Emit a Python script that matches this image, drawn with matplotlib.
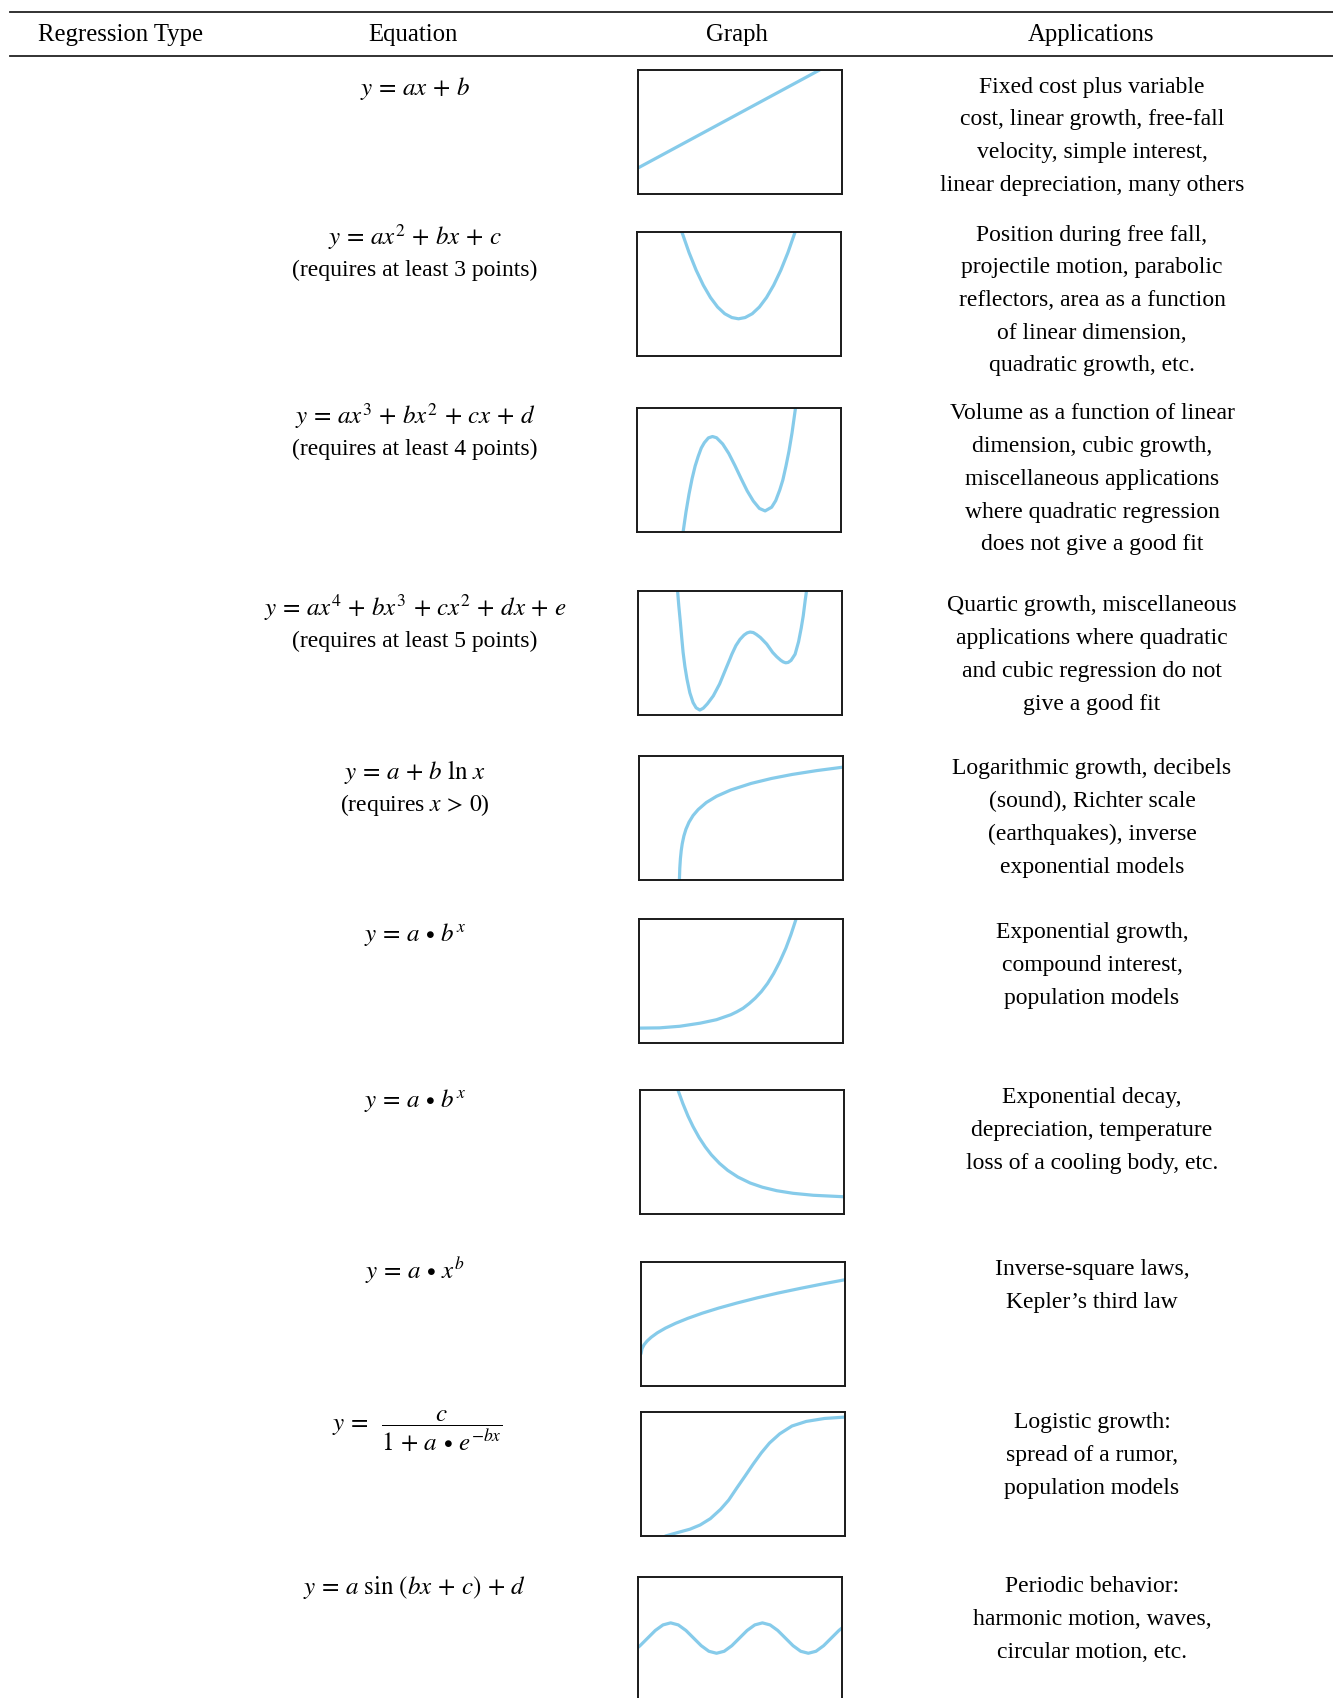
import matplotlib
matplotlib.use("Agg")
import matplotlib.pyplot as plt

plt.rcParams['font.family'] = ['Liberation Serif', 'DejaVu Serif']
plt.rcParams['mathtext.fontset'] = 'stix'

W, H = 1333, 1699
CURVE = '#86cbea'

headers = ["Regression Type", "Equation", "Graph", "Applications"]
header_x = [121, 413, 737, 1091]

equations = [
    r'$y\,=\,ax\,+\,b$',
    r'$y\,=\,ax^2\,+\,bx\,+\,c$',
    r'$y\,=\,ax^3\,+\,bx^2\,+\,cx\,+\,d$',
    r'$y\,=\,ax^4\,+\,bx^3\,+\,cx^2\,+\,dx\,+\,e$',
    r'$y\,=\,a\,+\,b\ \mathrm{ln}\ x$',
    r'$y\,=\,a\,\bullet\,b^x$',
    r'$y\,=\,a\,\bullet\,b^x$',
    r'$y\,=\,a\,\bullet\,x^b$',
    r'$y\,=\;\;\dfrac{c}{1\,+\,a\,\bullet\,e^{-bx}}$',
    r'$y\,=\,a\ \mathrm{sin}\ (bx\,+\,c)\,+\,d$',
]
notes = ["", "(requires at least 3 points)", "(requires at least 4 points)",
         "(requires at least 5 points)", r"(requires $x\,>\,0$)", "", "", "", "", ""]

applications = [
    ["Fixed cost plus variable", "cost, linear growth, free-fall",
     "velocity, simple interest,", "linear depreciation, many others"],
    ["Position during free fall,", "projectile motion, parabolic",
     "reflectors, area as a function", "of linear dimension,", "quadratic growth, etc."],
    ["Volume as a function of linear", "dimension, cubic growth,",
     "miscellaneous applications", "where quadratic regression", "does not give a good fit"],
    ["Quartic growth, miscellaneous", "applications where quadratic",
     "and cubic regression do not", "give a good fit"],
    ["Logarithmic growth, decibels", "(sound), Richter scale",
     "(earthquakes), inverse", "exponential models"],
    ["Exponential growth,", "compound interest,", "population models"],
    ["Exponential decay,", "depreciation, temperature", "loss of a cooling body, etc."],
    ["Inverse-square laws,", "Kepler\u2019s third law"],
    ["Logistic growth:", "spread of a rumor,", "population models"],
    ["Periodic behavior:", "harmonic motion, waves,", "circular motion, etc."],
]

# curve shapes (fractions of each box)
lin_x = [0.0, 0.89]
lin_y = [0.21, 1.0]

quad_x = [0.22, 0.255, 0.29, 0.325, 0.36, 0.395, 0.43, 0.465, 0.4975, 0.53, 0.565, 0.60,
          0.635, 0.67, 0.705, 0.74, 0.775]
quad_y = [1.0, 0.835, 0.692, 0.571, 0.472, 0.395, 0.341, 0.31, 0.30, 0.31, 0.341, 0.395,
          0.472, 0.571, 0.692, 0.835, 1.0]

cub_x = [0.226, 0.24, 0.255, 0.27, 0.285, 0.30, 0.315, 0.33, 0.35, 0.37, 0.39, 0.42, 0.45,
         0.48, 0.51, 0.54, 0.57, 0.60, 0.628, 0.66, 0.68, 0.70, 0.715, 0.73, 0.745, 0.76, 0.777]
cub_y = [0.0, 0.16, 0.306, 0.43, 0.532, 0.61, 0.677, 0.72, 0.759, 0.77, 0.76, 0.71, 0.633,
         0.536, 0.432, 0.332, 0.25, 0.19, 0.17, 0.20, 0.253, 0.34, 0.42, 0.53, 0.652, 0.80, 1.0]

quart_x = [0.194, 0.20, 0.207, 0.214, 0.221, 0.23, 0.24, 0.254, 0.27, 0.285, 0.303, 0.32,
           0.34, 0.369, 0.40, 0.43, 0.451, 0.46, 0.48, 0.50, 0.52, 0.535, 0.549, 0.565, 0.58,
           0.60, 0.631, 0.66, 0.68, 0.70, 0.712, 0.724, 0.736, 0.75, 0.77, 0.787, 0.80, 0.81,
           0.82, 0.826]
quart_y = [1.0, 0.88, 0.76, 0.63, 0.506, 0.39, 0.29, 0.18, 0.10, 0.058, 0.04, 0.055,
           0.09, 0.154, 0.25, 0.37, 0.453, 0.49, 0.56, 0.61, 0.645, 0.662, 0.669, 0.665, 0.65,
           0.625, 0.572, 0.505, 0.47, 0.441, 0.428, 0.421, 0.424, 0.44, 0.49, 0.59, 0.70, 0.80,
           0.93, 1.0]

log_x = [0.198, 0.20, 0.203, 0.207, 0.212, 0.22, 0.23, 0.245, 0.265, 0.29, 0.33, 0.38, 0.45,
         0.55, 0.65, 0.75, 0.87, 1.0]
log_y = [0.0, 0.097, 0.172, 0.237, 0.293, 0.355, 0.409, 0.466, 0.52, 0.568, 0.625, 0.675,
         0.726, 0.779, 0.819, 0.851, 0.882, 0.91]

grow_x = [0.0, 0.1, 0.2, 0.3, 0.38, 0.45, 0.48, 0.51, 0.54, 0.57, 0.60, 0.63, 0.66, 0.69,
          0.72, 0.745, 0.77]
grow_y = [0.12, 0.122, 0.135, 0.16, 0.188, 0.228, 0.252, 0.28, 0.318, 0.362, 0.415, 0.48,
          0.56, 0.655, 0.765, 0.875, 1.0]

decay_x = [0.186, 0.21, 0.235, 0.26, 0.29, 0.32, 0.35, 0.39, 0.43, 0.48, 0.54, 0.60, 0.67,
           0.75, 0.85, 1.0]
decay_y = [1.0, 0.891, 0.791, 0.705, 0.616, 0.541, 0.477, 0.408, 0.352, 0.298, 0.25, 0.216,
           0.188, 0.167, 0.151, 0.139]

pow_x = [0.0, 0.005, 0.015, 0.03, 0.05, 0.08, 0.12, 0.17, 0.23, 0.30, 0.38, 0.47, 0.57, 0.67,
         0.78, 0.89, 1.0]
pow_y = [0.26, 0.302, 0.333, 0.363, 0.393, 0.429, 0.467, 0.506, 0.546, 0.587, 0.628, 0.669,
         0.711, 0.749, 0.787, 0.823, 0.857]

logi_x = [0.12, 0.18, 0.24, 0.29, 0.34, 0.39, 0.43, 0.47, 0.51, 0.55, 0.59, 0.63, 0.68, 0.74,
          0.81, 0.90, 1.0]
logi_y = [0.0, 0.028, 0.055, 0.089, 0.140, 0.215, 0.290, 0.388, 0.483, 0.580, 0.671, 0.750,
          0.824, 0.887, 0.924, 0.948, 0.959]

sin_x = [0.0, 0.01, 0.0475, 0.085, 0.1225, 0.16, 0.1975, 0.235, 0.2725, 0.31, 0.3475, 0.385,
         0.4225, 0.46, 0.4975, 0.535, 0.5725, 0.61, 0.6475, 0.685, 0.7225, 0.76, 0.7975, 0.835,
         0.8725, 0.91, 0.9475, 0.985, 1.0]
sin_y = [0.432, 0.446, 0.5075, 0.569, 0.6136, 0.63, 0.6136, 0.569, 0.5075, 0.446, 0.401, 0.385,
         0.401, 0.446, 0.5075, 0.569, 0.6136, 0.63, 0.6136, 0.569, 0.5075, 0.446, 0.401, 0.385,
         0.401, 0.446, 0.5075, 0.569, 0.589]

curves = [(lin_x, lin_y), (quad_x, quad_y), (cub_x, cub_y), (quart_x, quart_y), (log_x, log_y),
          (grow_x, grow_y), (decay_x, decay_y), (pow_x, pow_y), (logi_x, logi_y), (sin_x, sin_y)]

# layout in pixels of the page
box_left = [638, 637, 637, 638, 639, 639, 640, 641, 641, 638]
box_top = [71, 233, 409, 592, 757, 920, 1091, 1263, 1413, 1578]
box_w, box_h = 204, 124
row_y = [89, 237, 416, 608, 772, 935, 1101, 1271, 1427, 1588]
app_y = [87, 235, 414, 606, 769, 933, 1098, 1270, 1423, 1587]
line_step = 32.7
fs = 17.0

fig = plt.figure(figsize=(W / 100, H / 100), dpi=100)
page = fig.add_axes([0, 0, 1, 1])
page.set_xlim(0, W)
page.set_ylim(H, 0)
page.axis('off')

page.plot([10, W], [13, 13], color='#222222', lw=1.3)
page.plot([10, W], [57, 57], color='#222222', lw=1.3)
for name, hx in zip(headers, header_x):
    page.text(hx, 35, name, ha='center', va='center', fontsize=17.8)

for i in range(10):
    if i == 8:
        page.text(417, row_y[i] + 4, equations[i], ha='center', va='center', fontsize=18)
    else:
        page.text(415, row_y[i], equations[i], ha='center', va='center', fontsize=18)
    if notes[i]:
        page.text(415, row_y[i] + 33, notes[i], ha='center', va='center', fontsize=fs)
    for j, line in enumerate(applications[i]):
        page.text(1092, app_y[i] + j * line_step, line, ha='center', va='center', fontsize=fs)

    ax = fig.add_axes([box_left[i] / W, 1 - (box_top[i] + box_h) / H, box_w / W, box_h / H])
    ax.set_xlim(0, 1)
    ax.set_ylim(0, 1)
    ax.set_xticks([])
    ax.set_yticks([])
    for sp in ax.spines.values():
        sp.set_linewidth(1.4)
        sp.set_color('#1a1a1a')
    cx, cy = curves[i]
    ax.plot(cx, cy, color=CURVE, lw=2.3, solid_capstyle='round')

fig.savefig('out.png', dpi=100)
